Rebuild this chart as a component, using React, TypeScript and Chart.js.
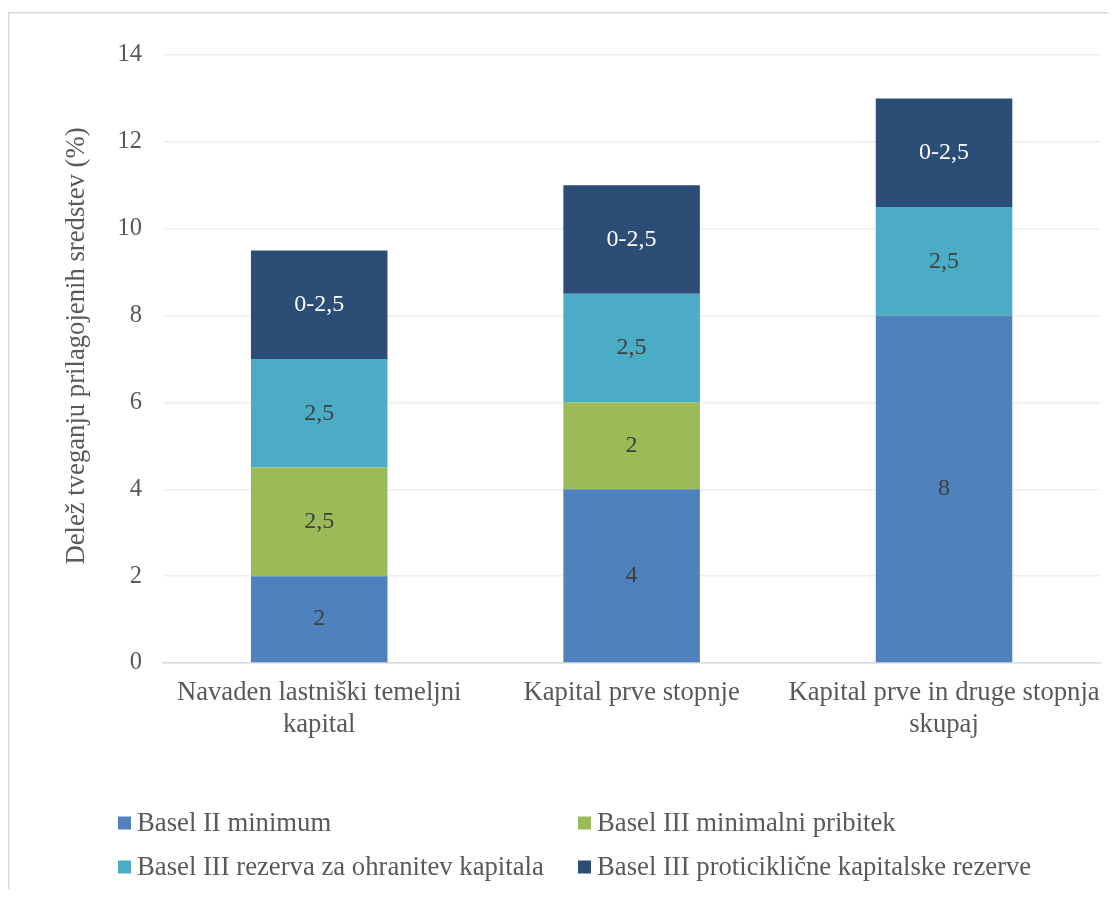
import React, { useEffect, useRef } from "react";
import { Chart, registerables } from "chart.js";

Chart.register(...registerables);

const categories: string[][] = [
  ["Navaden lastniški temeljni", "kapital"],
  ["Kapital prve stopnje"],
  ["Kapital prve in druge stopnja", "skupaj"],
];

const seriesNames = [
  "Basel II minimum",
  "Basel III minimalni pribitek",
  "Basel III rezerva za ohranitev kapitala",
  "Basel III proticiklične kapitalske rezerve",
];

const basel2Minimum = [2, 4, 8];
const basel3Pribitek = [2.5, 2, 0];
const basel3Rezerva = [2.5, 2.5, 2.5];
const basel3Proticiklicne = [2.5, 2.5, 2.5];
const proticiklicneLabel = "0-2,5";

const seriesColors = ["#4F81BD", "#9BBB59", "#4BACC6", "#2C4D75"];
const labelColors = ["#404040", "#404040", "#404040", "#FFFFFF"];

const yTicks = [0, 2, 4, 6, 8, 10, 12, 14];

const FONT = "'Liberation Serif', 'Times New Roman', serif";
const TEXT = "#595959";
const BIG = 26.7;

const W = 1108;
const H = 889;

export default function App() {
  const ref = useRef<HTMLCanvasElement | null>(null);

  useEffect(() => {
    if (!ref.current) return;
    const seriesData = [basel2Minimum, basel3Pribitek, basel3Rezerva, basel3Proticiklicne];

    const extras = {
      id: "extras",
      beforeDraw(chart: any) {
        const ctx = chart.ctx;
        ctx.save();
        ctx.fillStyle = "#ffffff";
        ctx.fillRect(0, 0, W, H);
        ctx.strokeStyle = "#d9d9d9";
        ctx.lineWidth = 1.5;
        ctx.beginPath();
        ctx.moveTo(0.75, H + 10);
        ctx.lineTo(0.75, 4.75);
        ctx.lineTo(W + 10, 4.75);
        ctx.stroke();
        ctx.restore();
      },
      afterDraw(chart: any) {
        const ctx = chart.ctx;
        ctx.save();
        // data labels
        chart.data.datasets.forEach((ds: any, di: number) => {
          const meta = chart.getDatasetMeta(di);
          meta.data.forEach((el: any, i: number) => {
            const v = ds.data[i];
            if (!v) return;
            const text = di === 3 ? proticiklicneLabel : String(v).replace(".", ",");
            ctx.font = `24px ${FONT}`;
            ctx.fillStyle = labelColors[di];
            ctx.textAlign = "center";
            ctx.textBaseline = "middle";
            ctx.fillText(text, el.x, (el.y + el.base) / 2);
          });
        });
        // y axis title
        ctx.translate(69, 338);
        ctx.rotate(-Math.PI / 2);
        ctx.font = `${BIG}px ${FONT}`;
        ctx.fillStyle = TEXT;
        ctx.textAlign = "center";
        ctx.textBaseline = "middle";
        ctx.fillText("Delež tveganju prilagojenih sredstev (%)", 0, 0);
        ctx.setTransform(1, 0, 0, 1, 0, 0);
        // legend
        const cols = [110, 570];
        const rows = [815, 859];
        seriesNames.forEach((name, i) => {
          const cx = cols[i % 2];
          const cy = rows[Math.floor(i / 2)];
          ctx.fillStyle = seriesColors[i];
          ctx.fillRect(cx, cy - 6.5, 13, 13);
          ctx.font = `${BIG}px ${FONT}`;
          ctx.fillStyle = TEXT;
          ctx.textAlign = "left";
          ctx.textBaseline = "middle";
          ctx.fillText(name, cx + 19, cy + 1);
        });
        ctx.restore();
      },
    };

    const chart = new Chart(ref.current, {
      type: "bar",
      data: {
        labels: categories as any,
        datasets: seriesNames.map((name, i) => ({
          label: name,
          data: seriesData[i],
          backgroundColor: seriesColors[i],
          borderWidth: 0,
          barPercentage: 0.437,
          categoryPercentage: 1,
        })),
      },
      options: {
        responsive: false,
        animation: false,
        layout: { padding: { left: 0, top: 47, right: 14, bottom: 134 } },
        plugins: {
          legend: { display: false },
          tooltip: { enabled: false },
          title: { display: false },
        },
        scales: {
          x: {
            stacked: true,
            afterFit: (s: any) => {
              s.height = 100;
            },
            grid: { display: false, drawTicks: false },
            border: { display: true, color: "#d9d9d9", width: 1.5 },
            ticks: {
              color: TEXT,
              font: { family: FONT, size: BIG, lineHeight: 1.2 },
              padding: 14,
              maxRotation: 0,
              autoSkip: false,
            },
          },
          y: {
            stacked: true,
            min: 0,
            max: 14,
            afterFit: (s: any) => {
              s.width = 155;
            },
            afterBuildTicks: (s: any) => {
              s.ticks = yTicks.map((v) => ({ value: v }));
            },
            grid: { color: "#efefef", lineWidth: 1.5, drawTicks: false },
            border: { display: false },
            ticks: {
              color: TEXT,
              font: { family: FONT, size: 24.5 },
              padding: 21,
            },
          },
        },
      },
      plugins: [extras],
    });
    return () => chart.destroy();
  }, []);

  return (
    <div style={{ width: W, height: H, marginBottom: -8 }}>
      <canvas ref={ref} width={W} height={H} style={{ display: "block" }} />
    </div>
  );
}
